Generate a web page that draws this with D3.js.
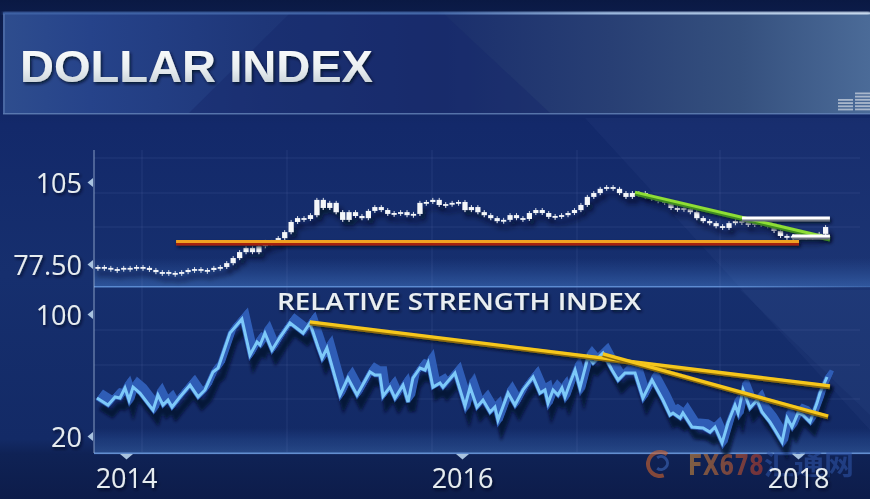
<!DOCTYPE html>
<html><head><meta charset="utf-8">
<script src="https://cdn.jsdelivr.net/npm/d3@7"></script>
<style>html,body{margin:0;padding:0;background:#0c1b48;overflow:hidden}svg{display:block}</style>
</head><body><div id="chart"></div>
<script>
// ---------------- DATA ----------------
const titleText = "DOLLAR INDEX";
const rsiTitle = "RELATIVE STRENGTH INDEX";
const priceStartYear = 2013.833;          // first candle (Nov 2013)
const priceStepYears = 14 / 365.25;       // two-week candles
const priceCloses = [
  76.5,76.2,75.8,75.8,76.2,76.2,76.5,76.2,75.5,74.8,
  74.8,74.5,74.5,74.8,75.5,75.8,75.5,75.5,76.2,76.5,
  77.8,79.5,81.5,82.9,81.5,83.5,84.9,84.9,86.2,88.2,
  91.6,92.9,92.6,93.9,99.0,96.3,98.0,94.9,92.3,94.9,
  93.6,92.9,95.3,96.6,95.6,94.3,94.6,94.9,93.9,94.3,
  98.0,98.3,99.0,97.3,97.6,98.0,98.3,95.6,96.6,94.9,
  93.9,92.9,91.9,92.3,93.9,92.9,92.6,94.6,95.6,94.6,
  93.3,93.6,93.9,94.6,95.6,97.3,100.0,101.3,102.7,103.3,
  102.7,101.3,100.0,101.3,101.3,100.0,99.3,98.6,98.0,96.3,
  96.3,95.9,94.9,92.9,91.9,91.2,90.2,89.6,91.2,91.9,
  91.9,90.6,91.2,90.9,90.2,88.6,86.9,86.6,86.9,86.9,
  86.9,86.6,87.6,89.9
];
const priceTicks = [77.5, 105];
const priceTickLabels = ["77.50", "105"];

const rsiYears = [
  2013.827,2013.893,2013.935,2013.964,2013.994,2014.018,2014.042,2014.083,2014.161,2014.190,
  2014.220,2014.250,2014.274,2014.321,2014.381,2014.429,2014.470,2014.518,2014.548,2014.619,
  2014.690,2014.738,2014.780,2014.798,2014.827,2014.869,2014.917,2014.976,2015.054,2015.095,
  2015.143,2015.167,2015.196,2015.274,2015.321,2015.375,2015.452,2015.482,2015.512,2015.530,
  2015.571,2015.601,2015.649,2015.679,2015.708,2015.750,2015.780,2015.798,2015.827,2015.869,
  2015.887,2015.958,2016.018,2016.048,2016.089,2016.125,2016.167,2016.196,2016.214,2016.274,
  2016.315,2016.363,2016.423,2016.464,2016.494,2016.512,2016.542,2016.571,2016.595,2016.613,
  2016.643,2016.673,2016.702,2016.750,2016.780,2016.839,2016.893,2016.929,2016.970,2017.030,
  2017.077,2017.131,2017.196,2017.238,2017.256,2017.298,2017.315,2017.369,2017.435,2017.476,
  2017.506,2017.548,2017.583,2017.625,2017.643,2017.673,2017.714,2017.756,2017.786,2017.833,
  2017.863,2017.905,2017.935,2017.964,2018.000,2018.030,2018.071,2018.113,2018.131,2018.173
];
const rsiValues = [
  44.9,40.3,45.6,44.9,51.5,43.6,52.1,48.2,37.0,46.9,
  40.3,43.6,39.0,45.6,53.4,45.6,50.2,62.0,64.6,87.5,
  96.7,73.1,81.6,79.7,87.5,76.4,84.9,94.1,87.5,94.1,
  78.4,71.1,77.7,46.9,58.0,46.9,62.0,60.0,60.0,46.2,
  52.1,44.9,53.4,42.3,58.0,64.6,63.3,67.9,52.1,54.8,
  52.1,61.3,39.7,52.1,39.0,43.6,35.7,39.0,30.5,48.2,
  40.3,50.2,58.7,48.2,50.2,41.6,50.2,46.9,51.5,45.6,
  54.8,63.3,51.5,71.8,67.9,74.4,63.3,56.7,61.3,61.3,
  44.9,56.7,43.6,33.8,35.1,31.8,35.1,25.9,25.2,22.6,
  25.9,15.4,28.5,40.3,35.1,50.2,38.4,43.6,35.7,29.2,
  23.9,16.1,31.8,25.9,35.1,33.8,29.2,41.6,48.2,58.7
];
const rsiTicks = [20, 100];
const rsiTickLabels = ["20", "100"];
const yearTicks = [2014, 2016, 2018];
const yearTickLabels = ["2014", "2016", "2018"];

const supportLine = [[2014.298, 85.05], [2018.006, 85.05]];
const priceTrend  = [[2017.030, 101.6], [2018.190, 86.2]];
const levelLines  = [
  [[2017.667, 92.9], [2018.190, 92.9]],
  [[2017.964, 86.9], [2018.190, 86.9]]
];
const rsiTrends = [
  [[2015.095, 94.8], [2018.190, 52.8]],
  [[2016.839, 73.8], [2018.179, 33.1]]
];

// ---------------- LAYOUT ----------------
const W = 870, H = 499;
const svg = d3.select("#chart").append("svg").attr("width", W).attr("height", H);
const defs = svg.append("defs");

const x  = d3.scaleLinear().domain([2014, 2018]).range([126, 798]);
const yP = d3.scaleLinear().domain([77.5, 105]).range([264, 182]);
const yR = d3.scaleLinear().domain([20, 100]).range([436, 314]);

function lin(id, x1, y1, x2, y2, stops) {
  const g = defs.append("linearGradient").attr("id", id)
    .attr("x1", x1).attr("y1", y1).attr("x2", x2).attr("y2", y2);
  stops.forEach(s => g.append("stop").attr("offset", s[0]).attr("stop-color", s[1]).attr("stop-opacity", s[2] == null ? 1 : s[2]));
}
lin("bg", 0, 0, 0, 1, [[0, "#0a1943"], [0.03, "#0c1c4a"], [0.25, "#13296a"], [0.55, "#162f6e"], [0.88, "#132a66"], [0.91, "#0f2255"], [1, "#0d1c4a"]]);
lin("banner", 0, 0, 1, 0, [[0, "#2e4d8e"], [0.1, "#26438a"], [0.3, "#1e3678"], [0.5, "#1a2e6c"], [0.7, "#283f74"], [0.85, "#35507e"], [1, "#4b6b98"]]);
lin("topline", 0, 0, 1, 0, [[0, "#3f63a6"], [0.5, "#4a6fb0"], [0.7, "#a9c6ea"], [1, "#d7e7f8"]]);
lin("titleFill", 0, 0, 0, 1, [[0, "#ffffff"], [0.55, "#e9eef1"], [1, "#b8c3cb"]]);
lin("glowUp", 0, 0, 0, 1, [[0, "#3e74c4", 0], [1, "#4b82d2", 0.45]]);
lin("glowLo", 0, 0, 0, 1, [[0, "#3e74c4", 0], [1, "#4b82d2", 0.4]]);
lin("lineGlow", 0, 0, 1, 0, [[0, "#5e8fd6", 0.9], [0.8, "#6a9ae0", 0.8], [1, "#6a9ae0", 0.2]]);
lin("fxFill", 0, 0, 1, 0, [[0, "#c98a3c"], [1, "#b63a2c"]]);

const sh = defs.append("filter").attr("id", "shadow").attr("x", "-10%").attr("y", "-30%").attr("width", "130%").attr("height", "180%");
sh.append("feDropShadow").attr("dx", 3).attr("dy", 6).attr("stdDeviation", 2.5).attr("flood-color", "#020a22").attr("flood-opacity", 0.85);
const sh2 = defs.append("filter").attr("id", "tshadow").attr("x", "-5%").attr("y", "-20%").attr("width", "115%").attr("height", "150%");
sh2.append("feDropShadow").attr("dx", 1.5).attr("dy", 2).attr("stdDeviation", 1.5).attr("flood-color", "#020a22").attr("flood-opacity", 0.8);
const blur = defs.append("filter").attr("id", "blur");
blur.append("feGaussianBlur").attr("stdDeviation", 1.6);

// background
svg.append("rect").attr("width", W).attr("height", H).attr("fill", "url(#bg)");
svg.append("path").attr("d", "M585,118 L870,118 L870,430 Z").attr("fill", "#6f8fc8").attr("opacity", 0.06);
svg.append("path").attr("d", "M740,290 L870,290 L870,415 Z").attr("fill", "#7f9fd8").attr("opacity", 0.05);

// title banner
svg.append("rect").attr("x", 3).attr("y", 13).attr("width", W - 3).attr("height", 101).attr("fill", "url(#banner)");
svg.append("path").attr("d", "M289,14 L444,14 L550,113 L189,113 Z").attr("fill", "#16296a").attr("opacity", 0.45);
svg.append("rect").attr("x", 3).attr("y", 12).attr("width", W - 3).attr("height", 2.5).attr("fill", "url(#topline)").attr("filter", "url(#blur)");
svg.append("rect").attr("x", 3).attr("y", 12.5).attr("width", W - 3).attr("height", 1.2).attr("fill", "url(#topline)");
svg.append("rect").attr("x", 3).attr("y", 113).attr("width", W - 3).attr("height", 1.5).attr("fill", "#6483b8").attr("opacity", 0.8);
svg.append("rect").attr("x", 3).attr("y", 14).attr("width", 2).attr("height", 99).attr("fill", "#5a79b0").attr("opacity", 0.6);

svg.append("text").text(titleText)
  .attr("x", 20).attr("y", 82)
  .attr("font-family", "'Liberation Sans', Arial, sans-serif").attr("font-weight", 700)
  .attr("font-size", 45).attr("textLength", 353).attr("lengthAdjust", "spacingAndGlyphs")
  .attr("fill", "url(#titleFill)").attr("filter", "url(#tshadow)");

const icon = svg.append("g").attr("fill", "#c9d2de").attr("opacity", 0.75);
d3.range(4).forEach(k => icon.append("rect").attr("x", 838).attr("y", 99 + k * 3.2).attr("width", 15).attr("height", 1.8));
d3.range(6).forEach(k => icon.append("rect").attr("x", 855).attr("y", 92.5 + k * 3.2).attr("width", 15).attr("height", 1.8));

// panel glows & separators
svg.append("rect").attr("x", 94).attr("y", 258).attr("width", W - 94).attr("height", 29).attr("fill", "url(#glowUp)");
svg.append("rect").attr("x", 94).attr("y", 286).attr("width", W - 94).attr("height", 1.5).attr("fill", "url(#lineGlow)");
svg.append("rect").attr("x", 94).attr("y", 428).attr("width", W - 94).attr("height", 25).attr("fill", "url(#glowLo)");
svg.append("rect").attr("x", 94).attr("y", 452.5).attr("width", W - 94).attr("height", 1.6).attr("fill", "#6d9ade").attr("opacity", 0.9);

// faint grid
const grid = svg.append("g").attr("stroke", "#8aa6d8").attr("stroke-opacity", 0.13).attr("stroke-width", 1);
[142, 287, 432, 577, 720].forEach(gx => grid.append("line").attr("x1", gx).attr("x2", gx).attr("y1", 150).attr("y2", 452));
[158, 193, 227, 330, 365, 399].forEach(gy => grid.append("line").attr("x1", 94).attr("x2", 860).attr("y1", gy).attr("y2", gy));

svg.append("line").attr("x1", 94).attr("x2", 94).attr("y1", 150).attr("y2", 453)
  .attr("stroke", "#a9c0df").attr("stroke-opacity", 0.55).attr("stroke-width", 1.4);

// ---------------- AXES ----------------
const labelFont = "'Open Sans', 'DejaVu Sans', sans-serif";
function leftAxis(scale, ticks, labels) {
  const ax = d3.axisLeft(scale).tickValues(ticks).tickSize(0).tickPadding(12)
    .tickFormat((d, i) => labels[i]);
  const g = svg.append("g").attr("transform", "translate(94,0)").call(ax);
  g.select(".domain").remove();
  g.selectAll(".tick text").attr("font-family", labelFont).attr("font-size", 27)
    .attr("fill", "#e6ecf0").attr("dy", 10).attr("filter", "url(#tshadow)");
  g.selectAll(".tick").append("path").attr("d", "M-1,-4.5 L-6.5,0 L-1,4.5 Z").attr("fill", "#a9c3df");
}
leftAxis(yP, priceTicks, priceTickLabels);
leftAxis(yR, rsiTicks, rsiTickLabels);

// ---------------- PRICE CANDLES ----------------
const candles = svg.append("g").attr("filter", "url(#shadow)");
priceCloses.forEach((c, i) => {
  const o = i ? priceCloses[i - 1] : c;
  const t = priceStartYear + i * priceStepYears;
  const cx = x(t);
  const top = yP(Math.max(o, c)), bot = yP(Math.min(o, c));
  const h = Math.max(1.8, bot - top);
  candles.append("line").attr("x1", cx).attr("x2", cx).attr("y1", top - 2).attr("y2", top + h + 2)
    .attr("stroke", "#e8ecf2").attr("stroke-width", 0.9);
  candles.append("rect").attr("x", cx - 2.6).attr("y", top).attr("width", 5.2).attr("height", h)
    .attr("fill", "#f4f6f9");
});

const pl = d3.line().x(d => x(d[0])).y(d => yP(d[1]));
function twoTone(g, data, gen, top, bottom, w, off) {
  g.append("path").attr("d", gen(data)).attr("transform", `translate(0,${off})`)
    .attr("stroke", bottom).attr("stroke-width", w).attr("fill", "none");
  g.append("path").attr("d", gen(data))
    .attr("stroke", top).attr("stroke-width", w).attr("fill", "none");
}
const lines = svg.append("g").attr("filter", "url(#tshadow)");
twoTone(lines, supportLine, pl, "#f0a223", "#a4230f", 3, 2.5);
twoTone(lines, priceTrend, pl, "#8ede35", "#3f8a20", 3, 2);
levelLines.forEach(l => twoTone(lines, l, pl, "#ffffff", "#6b7280", 3, 2));

// ---------------- RSI ----------------
svg.append("text").text(rsiTitle).attr("x", 277).attr("y", 310)
  .attr("font-family", labelFont).attr("font-weight", 600).attr("font-size", 23.5)
  .attr("textLength", 364).attr("lengthAdjust", "spacingAndGlyphs")
  .attr("fill", "#e9eef2").attr("filter", "url(#tshadow)");

const rsiData = rsiYears.map((t, i) => [t, rsiValues[i]]).filter(d => d[1] != null);
const rl = d3.line().x(d => x(d[0])).y(d => yR(d[1]));
const rsiG = svg.append("g");
rsiG.append("path").attr("d", rl(rsiData)).attr("transform", "translate(4,9)")
  .attr("stroke", "#030b26").attr("stroke-opacity", 0.75).attr("stroke-width", 7).attr("fill", "none")
  .attr("filter", "url(#blur)");
d3.range(7).forEach(k => {
  rsiG.append("path").attr("d", rl(rsiData)).attr("transform", `translate(${k * 0.8},${-k * 1.1})`)
    .attr("stroke", "#2f5db6").attr("stroke-width", 4.5).attr("fill", "none")
    .attr("stroke-linejoin", "miter");
});
rsiG.append("path").attr("d", rl(rsiData))
  .attr("stroke", "#7dc9f9").attr("stroke-width", 3).attr("fill", "none").attr("stroke-linejoin", "miter");

const tg = svg.append("g").attr("filter", "url(#tshadow)");
rsiTrends.forEach(l => {
  tg.append("path").attr("d", rl(l)).attr("transform", "translate(0,1)").attr("stroke", "#8a6a0a").attr("stroke-width", 4.5).attr("fill", "none");
  tg.append("path").attr("d", rl(l)).attr("stroke", "#f6c71f").attr("stroke-width", 3.3).attr("fill", "none");
});

// ---------------- WATERMARK ----------------
const wm = svg.append("g").attr("opacity", 0.6);
wm.append("path").attr("d", d3.arc()({innerRadius: 10, outerRadius: 14, startAngle: Math.PI * 0.9, endAngle: Math.PI * 2.2}))
  .attr("transform", "translate(660,464)").attr("fill", "#d2642c");
wm.append("path").attr("d", d3.arc()({innerRadius: 5, outerRadius: 8, startAngle: -Math.PI * 0.2, endAngle: Math.PI * 1.2}))
  .attr("transform", "translate(661,463)").attr("fill", "#3c66b8");
wm.append("text").text("FX678").attr("x", 688).attr("y", 475)
  .attr("font-family", "'DejaVu Sans', sans-serif").attr("font-weight", 700).attr("font-size", 28)
  .attr("textLength", 76).attr("lengthAdjust", "spacingAndGlyphs").attr("fill", "url(#fxFill)");
wm.append("text").text("汇通网").attr("x", 764).attr("y", 475)
  .attr("font-family", "'Noto Sans CJK SC', sans-serif").attr("font-weight", 700).attr("font-size", 28)
  .attr("textLength", 90).attr("lengthAdjust", "spacingAndGlyphs").attr("fill", "#2d52a4");

// ---------------- X AXIS ----------------
const xAx = d3.axisBottom(x).tickValues(yearTicks).tickSize(0).tickPadding(0)
  .tickFormat((d, i) => yearTickLabels[i]);
const xg = svg.append("g").attr("transform", "translate(0,454)").call(xAx);
xg.select(".domain").remove();
xg.selectAll(".tick text").attr("font-family", labelFont).attr("font-size", 27)
  .attr("fill", "#e6ecf0").attr("dy", 0).attr("y", 34).attr("filter", "url(#tshadow)");
xg.selectAll(".tick").append("path").attr("d", "M-6.5,0 L6.5,0 L0,5.5 Z").attr("fill", "#a9c3df");
</script>
</body></html>
